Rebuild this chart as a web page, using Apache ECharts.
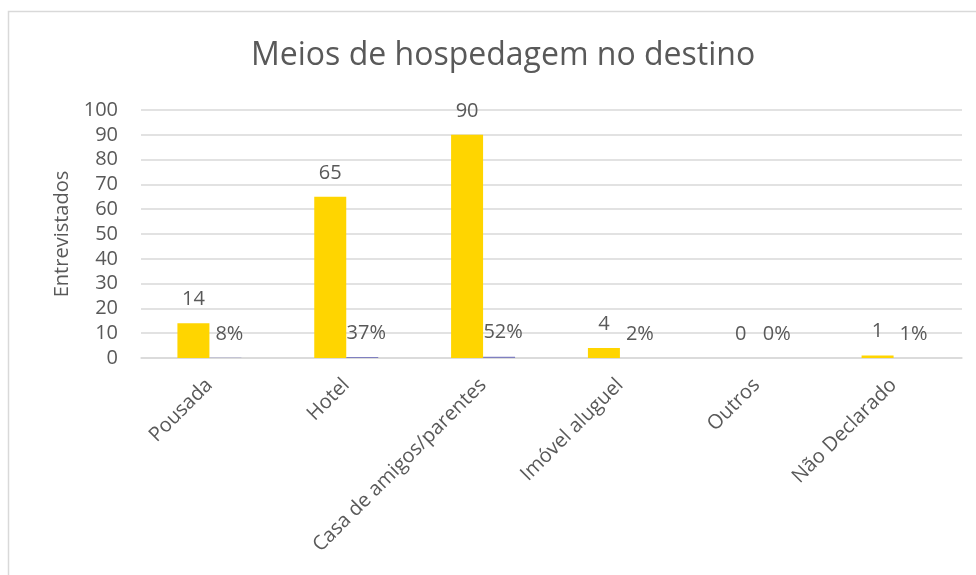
<!DOCTYPE html>
<html>
<head>
<meta charset="utf-8">
<script src="https://cdn.jsdelivr.net/npm/echarts@6/dist/echarts.min.js"></script>
<style>
    html, body { margin: 0; padding: 0; background: #fff; }
    #chart { width: 976px; height: 575px; }
</style>
</head>
<body>
<div id="chart"></div>
<script>
// categorias e valores
const categorias = ['Pousada', 'Hotel', 'Casa de amigos/parentes', 'Imóvel aluguel', 'Outros', 'Não Declarado'];
const entrevistados = [14, 65, 90, 4, 0, 1];
const percentuais = [0.08, 0.37, 0.52, 0.02, 0, 0.01];
const yTicks = { min: 0, max: 100, interval: 10 };

const textColor = '#595959';
const font = 'Open Sans';
const fs = 20;

const chart = echarts.init(document.getElementById('chart'));
const option = {
    animation: false,
    textStyle: { fontFamily: font },
    // moldura clara do gráfico
    graphic: [{
        type: 'rect',
        shape: { x: 8.5, y: 11.5, width: 1000, height: 620 },
        style: { fill: 'none', stroke: '#d9d9d9', lineWidth: 1.5 },
        silent: true
    }],
    title: {
        text: 'Meios de hospedagem no destino',
        left: 246,
        top: 35,
        textStyle: { fontFamily: font, fontSize: 32, fontWeight: 'normal', color: textColor }
    },
    grid: {
        left: 141,
        right: 14,
        top: 110,
        bottom: 217,
        containLabel: false
    },
    xAxis: {
        type: 'category',
        data: categorias,
        axisTick: { show: false },
        axisLine: { lineStyle: { color: '#d9d9d9', width: 1.5 } },
        axisLabel: {
            interval: 0,
            rotate: 45,
            margin: 24,
            color: textColor,
            fontSize: fs,
            fontFamily: font
        }
    },
    yAxis: {
        type: 'value',
        min: yTicks.min,
        max: yTicks.max,
        interval: yTicks.interval,
        name: 'Entrevistados',
        nameLocation: 'middle',
        nameGap: 68,
        nameRotate: 90,
        nameTextStyle: { color: textColor, fontSize: fs, fontFamily: font },
        axisLine: { show: false },
        axisTick: { show: false },
        axisLabel: { color: textColor, fontSize: fs, fontFamily: font, margin: 23 },
        splitLine: { lineStyle: { color: '#d9d9d9', width: 1.5 } }
    },
    series: [
        {
            name: 'Entrevistados',
            type: 'bar',
            data: entrevistados,
            barWidth: 32,
            barGap: '0%',
            itemStyle: { color: '#FFD500' },
            label: {
                show: true,
                position: 'top',
                distance: 14,
                color: textColor,
                fontSize: fs,
                fontFamily: font
            }
        },
        {
            name: 'Percentual',
            type: 'bar',
            data: percentuais,
            barWidth: 32,
            barGap: '0%',
            itemStyle: { color: '#7f7fc0' },
            label: {
                show: true,
                position: 'top',
                distance: 14,
                offset: [4, 0],
                color: textColor,
                fontSize: fs,
                fontFamily: font,
                formatter: (p) => Math.round(p.value * 100) + '%'
            }
        }
    ]
};
chart.setOption(option);
</script>
</body>
</html>
